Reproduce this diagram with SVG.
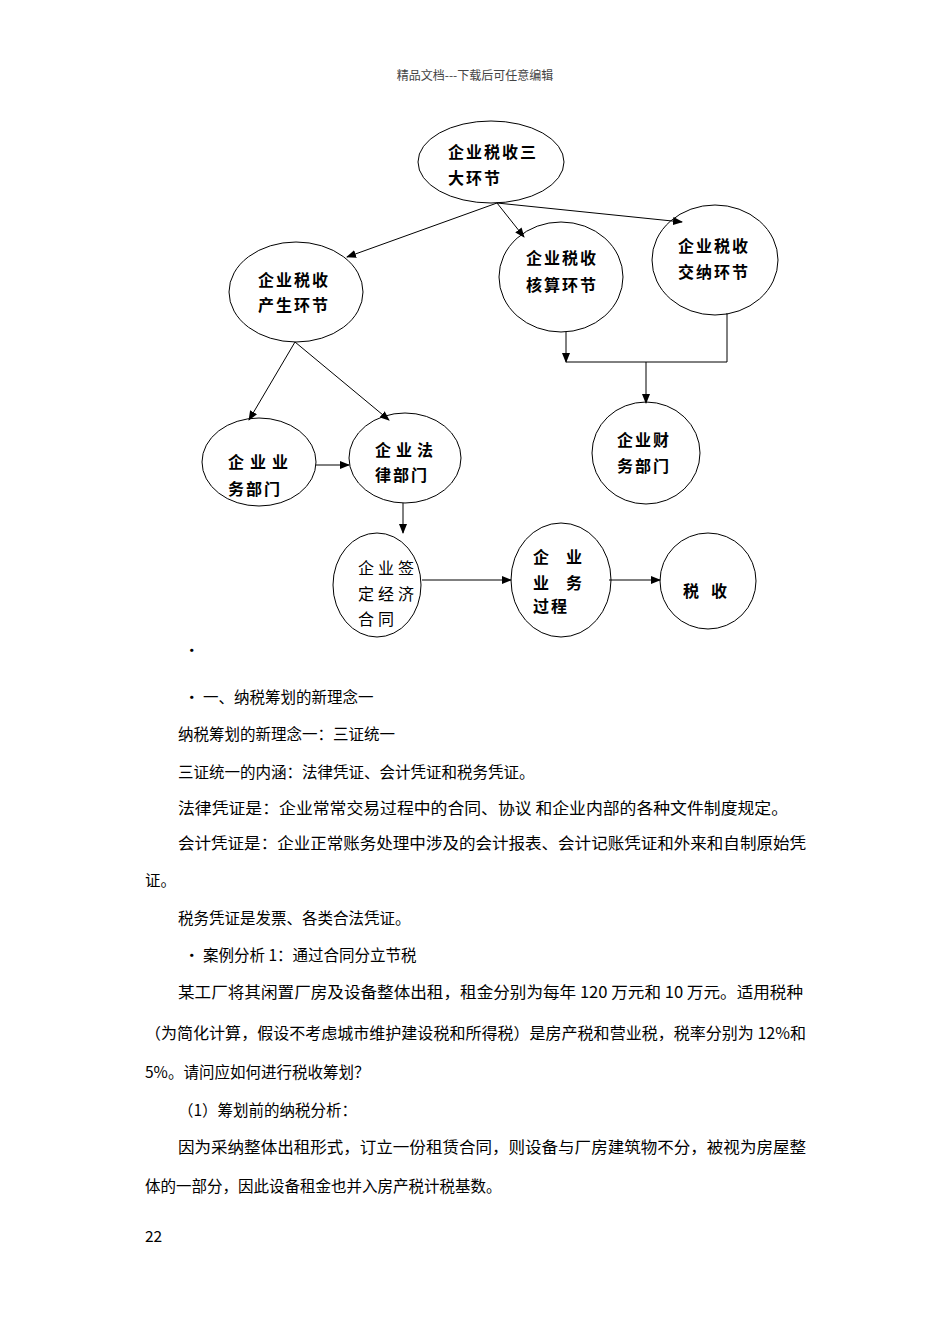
<svg xmlns="http://www.w3.org/2000/svg" width="950" height="1344" viewBox="0 0 950 1344">
<defs>
<marker id="ah" markerWidth="10" markerHeight="8" refX="9" refY="4" orient="auto" markerUnits="userSpaceOnUse">
<path d="M0,0 L10,4 L0,8 Z" fill="#000"/>
</marker>
<style>
.n{fill:#fff;stroke:#000;stroke-width:1}
.b{font-family:"Noto Sans CJK SC","Liberation Sans",sans-serif;font-size:16px;font-weight:bold;fill:#000;letter-spacing:2px}
.r{font-family:"Noto Sans CJK SC","Liberation Sans",sans-serif;font-size:16px;fill:#000;letter-spacing:4px}
.t{font-family:"Noto Sans CJK SC","Liberation Sans",sans-serif;font-size:15.5px;fill:#000}
.c{fill:none;stroke:#000;stroke-width:1}
</style>
</defs>
<rect width="950" height="1344" fill="#fff"/>
<text x="475" y="80" text-anchor="middle" font-family="Noto Sans CJK SC, sans-serif" font-size="12" fill="#444">精品文档---下载后可任意编辑</text>

<g id="n-top"><ellipse class="n" cx="491" cy="162" rx="73" ry="41"/>
<text class="b" x="448" y="158">企业税收三</text><text class="b" x="448" y="184">大环节</text></g>
<g id="n-chansheng"><ellipse class="n" cx="296" cy="292" rx="67" ry="50"/>
<text class="b" x="258" y="286">企业税收</text><text class="b" x="258" y="311">产生环节</text></g>
<g id="n-hesuan"><ellipse class="n" cx="561" cy="277" rx="62" ry="55"/>
<text class="b" x="526" y="264">企业税收</text><text class="b" x="526" y="291">核算环节</text></g>
<g id="n-jiaona"><ellipse class="n" cx="715" cy="260" rx="63" ry="55"/>
<text class="b" x="678" y="252">企业税收</text><text class="b" x="678" y="278">交纳环节</text></g>
<g id="n-yewu"><ellipse class="n" cx="259" cy="462" rx="57" ry="44"/>
<text class="b" x="228" y="468" style="letter-spacing:6px">企业业</text><text class="b" x="228" y="495">务部门</text></g>
<g id="n-falv"><ellipse class="n" cx="405" cy="458" rx="56" ry="45"/>
<text class="b" x="375" y="456" style="letter-spacing:5px">企业法</text><text class="b" x="375" y="481">律部门</text></g>
<g id="n-caiwu"><ellipse class="n" cx="646" cy="453" rx="54" ry="51"/>
<text class="b" x="617" y="446">企业财</text><text class="b" x="617" y="472">务部门</text></g>
<g id="n-hetong"><ellipse class="n" cx="377" cy="585" rx="44" ry="52"/>
<text class="r" x="358" y="574">企业签</text><text class="r" x="358" y="600">定经济</text><text class="r" x="358" y="625">合同</text></g>
<g id="n-guocheng"><ellipse class="n" cx="561" cy="580" rx="50" ry="57"/>
<text class="b" x="533" y="563" style="letter-spacing:17px">企业</text><text class="b" x="533" y="589" style="letter-spacing:17px">业务</text><text class="b" x="533" y="612">过程</text></g>
<g id="n-shuishou"><ellipse class="n" cx="708" cy="581" rx="48" ry="48"/>
<text class="b" x="683" y="597" style="letter-spacing:12px">税收</text></g>

<g id="connectors">
<line class="c" x1="497" y1="203" x2="347" y2="257" marker-end="url(#ah)"/>
<line class="c" x1="497" y1="203" x2="524" y2="237" marker-end="url(#ah)"/>
<line class="c" x1="497" y1="203" x2="682" y2="222" marker-end="url(#ah)"/>
<line class="c" x1="295" y1="342" x2="249" y2="420" marker-end="url(#ah)"/>
<line class="c" x1="295" y1="342" x2="389" y2="420" marker-end="url(#ah)"/>
<line class="c" x1="316" y1="465" x2="349" y2="465" marker-end="url(#ah)"/>
<line class="c" x1="403" y1="503" x2="403" y2="533" marker-end="url(#ah)"/>
<line class="c" x1="566" y1="332" x2="566" y2="362" marker-end="url(#ah)"/>
<polyline class="c" points="566,362 727,362 727,313"/>
<line class="c" x1="646" y1="362" x2="646" y2="403" marker-end="url(#ah)"/>
<line class="c" x1="422" y1="580" x2="511" y2="580" marker-end="url(#ah)"/>
<line class="c" x1="609" y1="580" x2="660" y2="580" marker-end="url(#ah)"/>
</g>

<g id="body">
<text class="t" x="184" y="656">·</text>
<text class="t" x="184" y="703">·</text>
<text class="t" x="203" y="703">一、纳税筹划的新理念一</text>
<text class="t" x="178" y="740">纳税筹划的新理念一：三证统一</text>
<text class="t" x="178" y="778">三证统一的内涵：法律凭证、会计凭证和税务凭证。</text>
<text class="t" x="178" y="814" textLength="610" lengthAdjust="spacingAndGlyphs">法律凭证是：企业常常交易过程中的合同、协议  和企业内部的各种文件制度规定。</text>
<text class="t" x="178" y="849" textLength="628" lengthAdjust="spacingAndGlyphs">会计凭证是：企业正常账务处理中涉及的会计报表、会计记账凭证和外来和自制原始凭</text>
<text class="t" x="145" y="886">证。</text>
<text class="t" x="178" y="924">税务凭证是发票、各类合法凭证。</text>
<text class="t" x="184" y="961">·</text>
<text class="t" x="203" y="961">案例分析 1：通过合同分立节税</text>
<text class="t" x="178" y="998" textLength="625" lengthAdjust="spacingAndGlyphs">某工厂将其闲置厂房及设备整体出租，租金分别为每年 120 万元和 10 万元。适用税种</text>
<text class="t" x="145" y="1039" textLength="661" lengthAdjust="spacingAndGlyphs">（为简化计算，假设不考虑城市维护建设税和所得税）是房产税和营业税，税率分别为 12%和</text>
<text class="t" x="145" y="1078">5%。请问应如何进行税收筹划？</text>
<text class="t" x="178" y="1116">（1）筹划前的纳税分析：</text>
<text class="t" x="178" y="1153" textLength="628" lengthAdjust="spacingAndGlyphs">因为采纳整体出租形式，订立一份租赁合同，则设备与厂房建筑物不分，被视为房屋整</text>
<text class="t" x="145" y="1192">体的一部分，因此设备租金也并入房产税计税基数。</text>
<text class="t" x="145" y="1242" font-size="13">22</text>
</g>
</svg>
